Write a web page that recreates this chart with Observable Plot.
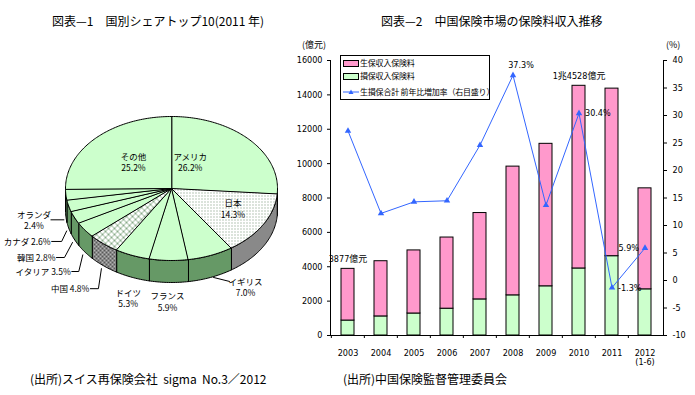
<!DOCTYPE html>
<html><head><meta charset="utf-8">
<script src="https://cdn.jsdelivr.net/npm/d3@7"></script>
<script src="https://cdn.jsdelivr.net/npm/@observablehq/plot@0.6"></script>
<style>
body{margin:0;background:#fff;}
#root{position:relative;width:695px;height:395px;overflow:hidden;font-family:"Noto Sans CJK JP",sans-serif;color:#000;background:#fff;}
.t{position:absolute;white-space:pre;line-height:1;}
.lg{position:absolute;box-sizing:border-box;border:1px solid #000;background:#fff;}
.sw{position:absolute;box-sizing:border-box;}
</style></head><body><div id="root"></div>
<script>
// ---------------- data ----------------
const countries = ["アメリカ","日本","イギリス","フランス","ドイツ","中国","イタリア","韓国","カナダ","オランダ","その他"];
const shares    = [26.2, 14.3, 7.0, 5.9, 5.3, 4.8, 3.5, 2.8, 2.6, 2.4, 25.2];

const years      = ["2003","2004","2005","2006","2007","2008","2009","2010","2011","2012"];
const yearLabels = ["2003","2004","2005","2006","2007","2008","2009","2010","2011","2012\n(1-6)"];
const lifePremium    = [3007, 3212, 3670, 4140, 5025, 7490, 8290, 10628, 9750, 5876]; // 生保
const nonLifePremium = [870, 1110, 1280, 1560, 2100, 2336, 2862, 3900, 4614, 2686];   // 損保
const growthRate     = [27.2, 12.2, 14.3, 14.5, 24.6, 37.3, 13.7, 30.4, -1.3, 5.9];    // %
const seriesNames = ["生保収入保険料","損保収入保険料","生損保合計 前年比増加率（右目盛り）"];
const leftTicks  = d3.range(0, 16001, 2000);
const rightTicks = d3.range(-10, 41, 5);

// ---------------- styles ----------------
const numFont = `"Liberation Sans Narrow","DejaVu Sans Condensed","Noto Sans CJK JP",sans-serif`;
const jpFont  = `"Noto Sans CJK JP",sans-serif`;
const root = document.getElementById("root");
function addText(txt, left, top, size, extra) {
  const d = document.createElement("div");
  d.className = "t"; d.textContent = txt;
  d.style.left = left + "px"; d.style.top = top + "px"; d.style.fontSize = size + "px";
  if (extra) Object.assign(d.style, extra);
  root.appendChild(d); return d;
}

// ---------------- titles / sources ----------------
addText("図表—1　国別シェアトップ10(2011 年)", 52, 15, 12);
addText("図表—2　中国保険市場の保険料収入推移", 381, 15, 12);
addText("(出所)スイス再保険会社  sigma  No.3／2012", 30, 373, 12);
addText("(出所)中国保険監督管理委員会", 343, 373, 12);
addText("(億元)", 302, 40, 9);
addText("(%)", 666, 40, 9);

// ---------------- pie (3D) ----------------
const W1 = 290, H1 = 330, top1 = 30;
const cx = 171, cy = 188 - top1, rx = 106, ry = 72, depth = 22;
const deg = Math.PI / 180;
let acc = 0;
const slices = countries.map((name, i) => {
  const a0 = acc / 100 * 2 * Math.PI; acc += shares[i];
  const a1 = acc / 100 * 2 * Math.PI;
  return {name, share: shares[i], a0, a1, mid: (a0 + a1) / 2};
});
const P = (a, dz = 0, f = 1) => ({x: f * rx * Math.sin(a), y: f * ry * Math.cos(a) - dz});
function arc(a0, a1, dz) {
  const n = Math.max(2, Math.ceil((a1 - a0) / deg));
  return d3.range(n + 1).map(j => P(a0 + (a1 - a0) * j / n, dz));
}
const topFill  = {"日本": "url(#pDots)", "中国": "url(#pCross)"};
const sideFill = {"日本": "url(#pCheck)", "中国": "url(#pCrossSide)"};

const labelLayout = {
  "アメリカ": {inside: true, dx: -24, dy: 0, sep: "\n"},
  "日本":     {inside: true, dx: 11, dy: 0, sep: "\n"},
  "その他":   {inside: true, dx: 3.5, dy: 1, sep: "\n"},
  "イギリス": {dx: 35, dy: 9.5, sep: "\n", lead: [[3, 0], [19, 4]]},
  "フランス": {dx: -1, dy: 19, sep: "\n"},
  "ドイツ":   {dx: -4, dy: 20.5, sep: "\n"},
  "中国":     {dx: -14, dy: 23, sep: " ", anchor: "end", lead: [[-13, 23], [-5, 23], [-2, 3]]},
  "イタリア": {dx: -14, dy: 19.6, sep: " ", anchor: "end", lead: [[-13, 19.6], [-6, 19.6], [-2, 3]]},
  "韓国":     {dx: -19, dy: 18, sep: " ", anchor: "end", lead: [[-18, 18], [-10, 18], [-2, 3]]},
  "カナダ":   {dx: -18, dy: 13.5, sep: " ", anchor: "end", lead: [[-17, 13.5], [-7, 13.5], [-2, 3]]},
  "オランダ": {dx: -32, dy: 3, sep: "\n", lead: [[-15, 3], [-2, 3]]}
};

const pieMarks = [];
// sides (front half only)
slices.forEach(s => {
  const b0 = Math.max(s.a0, Math.PI / 2), b1 = Math.min(s.a1, 3 * Math.PI / 2);
  if (b0 < b1) {
    const pts = [...arc(b0, b1, 0), ...arc(b0, b1, depth).reverse()];
    pieMarks.push(Plot.line(pts, {x: "x", y: "y", curve: "linear-closed",
      fill: sideFill[s.name] || "#669966", stroke: "#000", strokeWidth: 1}));
  }
});
// tops
slices.forEach(s => {
  const pts = [{x: 0, y: 0}, ...arc(s.a0, s.a1, 0)];
  pieMarks.push(Plot.line(pts, {x: "x", y: "y", curve: "linear-closed",
    fill: topFill[s.name] || "#ccffcc", stroke: "#000", strokeWidth: 1}));
});
// labels
const labelData = slices.map(s => {
  const L = labelLayout[s.name];
  const anchor = L.inside ? P(s.mid, 0, 0.55) : P(s.mid, depth);
  return {
    name: s.name,
    text: s.name + L.sep + s.share.toFixed(1) + "%",
    x: anchor.x + L.dx, y: anchor.y - L.dy,
    anchorPt: anchor, L
  };
});
labelData.filter(d => d.L.lead).forEach(d => {
  const pts = d.L.lead.map(([dx, dy]) => ({x: d.anchorPt.x + dx, y: d.anchorPt.y - dy}));
  pieMarks.push(Plot.line(pts, {x: "x", y: "y", stroke: "#000", strokeWidth: 1}));
});
["middle", "end"].forEach(a => {
  pieMarks.push(Plot.text(labelData.filter(d => (d.L.anchor || "middle") === a),
    {x: "x", y: "y", text: "text", textAnchor: a, fill: "#000", fontSize: 8.5, lineHeight: 1.32}));
});

const pie = Plot.plot({
  width: W1, height: H1, margin: 0,
  x: {domain: [-cx, W1 - cx], axis: null},
  y: {domain: [cy - H1, cy], axis: null},
  style: {fontFamily: jpFont, fontSize: "9px", background: "transparent", overflow: "visible"},
  marks: pieMarks
});
const defs = document.createElementNS("http://www.w3.org/2000/svg", "defs");
defs.innerHTML = `
<pattern id="pDots" width="3" height="3" patternUnits="userSpaceOnUse"><rect width="3" height="3" fill="#fff"/><rect width="1" height="1" fill="#6f8f6f"/></pattern>
<pattern id="pCheck" width="2" height="2" patternUnits="userSpaceOnUse"><rect width="2" height="2" fill="#c8c8c8"/><rect width="1" height="1" fill="#4a4a4a"/><rect x="1" y="1" width="1" height="1" fill="#4a4a4a"/></pattern>
<pattern id="pCross" width="6" height="6" patternUnits="userSpaceOnUse"><rect width="6" height="6" fill="#fff"/><path d="M0,0L6,6M6,0L0,6" stroke="#88aa88" stroke-width="1"/></pattern>
<pattern id="pCrossSide" width="4" height="4" patternUnits="userSpaceOnUse"><rect width="4" height="4" fill="#b4b4b4"/><path d="M0,0L4,4M4,0L0,4" stroke="#404040" stroke-width="0.8"/></pattern>`;
pie.insertBefore(defs, pie.firstChild);
Object.assign(pie.style, {position: "absolute", left: "0px", top: top1 + "px"});
root.appendChild(pie);

// ---------------- bar + line chart ----------------
const data2 = years.map((year, i) => ({
  year, life: lifePremium[i], nonlife: nonLifePremium[i],
  total: lifePremium[i] + nonLifePremium[i], rate: growthRate[i]
}));
const yMax = 16000, rMin = -10, rMax = 40;
const rateToY = r => (r - rMin) / (rMax - rMin) * yMax;
const yToRate = v => v / yMax * (rMax - rMin) + rMin;
const W2 = 405, H2 = 345, mL = 40, mR = 32, mT = 30, mB = 40;
const pIn = 0.6, pOut = 0.3;
const step = (W2 - mL - mR) / (years.length - pIn + 2 * pOut);
const fmtTotal = v => v >= 10000 ? `${Math.floor(v / 10000)}兆${v % 10000}億元` : `${v}億元`;
const fmtRate = d => `${d.rate.toFixed(1)}%`;
const blue = "#3366ff";
const byYear = ys => data2.filter(d => ys.includes(d.year));

const chart = Plot.plot({
  width: W2, height: H2, marginLeft: mL, marginRight: mR, marginTop: mT, marginBottom: mB,
  style: {fontFamily: numFont, fontSize: "9px", background: "transparent", overflow: "visible"},
  x: {domain: years, paddingInner: pIn, paddingOuter: pOut, label: null},
  y: {domain: [0, yMax], label: null},
  marks: [
    Plot.barY(data2, {x: "year", y1: 0, y2: "nonlife", fill: "#ccffcc", stroke: "#000", strokeWidth: 1}),
    Plot.barY(data2, {x: "year", y1: "nonlife", y2: "total", fill: "#ff99cc", stroke: "#000", strokeWidth: 1}),
    Plot.frame({anchor: "left", stroke: "#000"}),
    Plot.frame({anchor: "right", stroke: "#000"}),
    Plot.frame({anchor: "bottom", stroke: "#000"}),
    Plot.axisY({anchor: "left", ticks: leftTicks, tickFormat: d => String(d), tickSize: 3, tickPadding: 5, label: null}),
    Plot.axisY(rightTicks.map(rateToY), {anchor: "right", tickFormat: v => String(Math.round(yToRate(v))), tickSize: 3, tickPadding: 6, label: null}),
    Plot.axisX({anchor: "bottom", tickSize: 0, tickPadding: 14, tickFormat: d => yearLabels[years.indexOf(d)], label: null, lineHeight: 1.0}),
    Plot.axisX({anchor: "bottom", tickSize: 3, tickFormat: () => "", dx: -step / 2, label: null}),
    Plot.line(data2, {x: "year", y: d => rateToY(d.rate), stroke: blue, strokeWidth: 1}),
    Plot.dot(data2, {x: "year", y: d => rateToY(d.rate), symbol: "triangle", r: 2.4, fill: blue, stroke: "none"}),
    Plot.text(byYear(["2003", "2010"]), {x: "year", y: "total", text: d => fmtTotal(d.total), dy: -10, fill: "#000"}),
    Plot.text(byYear(["2008"]), {x: "year", y: d => rateToY(d.rate), text: fmtRate, dx: 8, dy: -10, fill: "#000"}),
    Plot.text(byYear(["2010", "2011"]), {x: "year", y: d => rateToY(d.rate), text: fmtRate, textAnchor: "start", dx: 6, fill: "#000"}),
    Plot.text(byYear(["2012"]), {x: "year", y: d => rateToY(d.rate), text: fmtRate, textAnchor: "end", dx: -6, fill: "#000"})
  ]
});
Object.assign(chart.style, {position: "absolute", left: "290px", top: "30px"});
root.appendChild(chart);

// ---------------- legend (HTML, inside plot area) ----------------
const lg = document.createElement("div");
lg.className = "lg";
Object.assign(lg.style, {left: "340px", top: "55px", width: "150px", height: "45px"});
root.appendChild(lg);
const swatches = [
  {type: "rect", color: "#ff99cc"},
  {type: "rect", color: "#ccffcc"},
  {type: "line", color: blue}
];
seriesNames.forEach((name, i) => {
  const sw = swatches[i];
  const cyL = [7, 20, 36][i];
  if (sw.type === "rect") {
    const r = document.createElement("div"); r.className = "sw";
    Object.assign(r.style, {left: "2px", top: (cyL - 3) + "px", width: "16px", height: "7px", background: sw.color, border: "1px solid #000"});
    lg.appendChild(r);
  } else {
    const svgNS = "http://www.w3.org/2000/svg";
    const s = document.createElementNS(svgNS, "svg");
    s.setAttribute("width", 16); s.setAttribute("height", 8);
    Object.assign(s.style, {position: "absolute", left: "2px", top: (cyL - 4) + "px"});
    s.innerHTML = `<line x1="0" y1="4" x2="16" y2="4" stroke="${sw.color}" stroke-width="1"/><path d="M8,1.5L10.5,6L5.5,6Z" fill="${sw.color}"/>`;
    lg.appendChild(s);
  }
  const t = document.createElement("div"); t.className = "t";
  t.textContent = name;
  Object.assign(t.style, {left: "19px", top: (cyL - 4.5) + "px", fontSize: "8px", letterSpacing: "-0.2px"});
  lg.appendChild(t);
});
</script></body></html>
